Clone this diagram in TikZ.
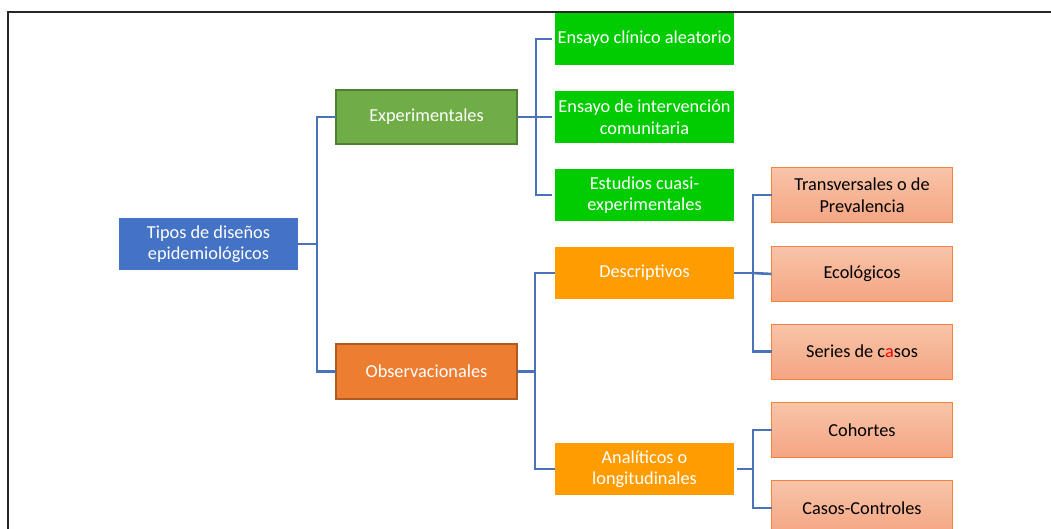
\documentclass[tikz,border=0pt]{standalone}
\usepackage{fontspec}
\setmainfont{Carlito}
\definecolor{cblue}{HTML}{4472C4}
\definecolor{cgreen}{HTML}{70AD47}
\definecolor{cgreenb}{HTML}{507E32}
\definecolor{corange}{HTML}{ED7D31}
\definecolor{coranb}{HTML}{AE5A21}
\definecolor{cbright}{HTML}{00CC00}
\definecolor{camber}{HTML}{FF9C00}
\definecolor{csalt}{HTML}{F8C4A9}
\definecolor{csalb}{HTML}{F4A582}
\definecolor{csald}{HTML}{F4823C}
\definecolor{cline}{HTML}{4A72B8}
\tikzset{
  base/.style={rectangle, inner sep=1pt, outer sep=0pt, align=center,
    font=\fontsize{18.3}{21.5}\selectfont},
  topbox/.style={base, text=white, fill=cblue, minimum width=179pt, minimum height=52pt},
  expbox/.style={base, text=white, fill=cgreen, draw=cgreenb, line width=1.8pt, minimum width=181pt, minimum height=54pt},
  obsbox/.style={base, text=white, fill=corange, draw=coranb, line width=1.8pt, minimum width=181pt, minimum height=55pt},
  gbox/.style={base, text=white, fill=cbright, minimum width=179pt, minimum height=52pt},
  abox/.style={base, text=white, fill=camber, minimum width=179pt, minimum height=52pt},
  sbox/.style={base, text=black, top color=csalt, bottom color=csalb, draw=csald, line width=1pt, minimum width=181pt, minimum height=55pt},
  conn/.style={draw=cline, line width=2.6pt},
}
\begin{document}
\begin{tikzpicture}[x=1pt,y=-1pt]
\useasboundingbox (0,0) rectangle (1051,529);
\clip (0,0) rectangle (1051,529);
\draw[line width=1.6pt, black!85] (8,529) -- (8,12) -- (1051,12);

\node[topbox] (tipos) at (208.5,244) {Tipos de diseños\\epidemiológicos};
\node[expbox] (exp) at (426.5,117) {Experimentales};
\node[obsbox] (obs) at (426.5,371.5) {Observacionales};

\node[gbox] (g1) at (644.5,39) {Ensayo clínico aleatorio};
\node[gbox] (g2) at (644.5,117) {Ensayo de intervención\\comunitaria};
\node[gbox] (g3) at (644.5,195) {Estudios cuasi-\\experimentales};

\node[abox] (desc) at (644.5,273) {Descriptivos};
\node[abox] (anal) at (644.5,469) {Analíticos o\\longitudinales};

\node[sbox] (trans) at (862,195) {Transversales o de\\Prevalencia};
\node[sbox] (eco) at (862,274) {Ecológicos};
\node[sbox] (ser) at (862,351.5) {Series de c\textcolor{red}{a}sos};
\node[sbox] (coh) at (862,430) {Cohortes};
\node[sbox] (cas) at (862,508) {Casos-Controles};

\coordinate (j1) at (317,244);
\coordinate (j2) at (536,117);
\coordinate (j3) at (535,371.5);
\coordinate (j4) at (753,273);
\coordinate (j5) at (753,469);

\draw[conn] (tipos.east) -- (j1);
\draw[conn] (exp.west) -| (j1) |- (obs.west);

\draw[conn] (exp.east) -- (j2);
\draw[conn, shorten <=3pt] (g1.west) -| (j2) |- ([xshift=-3pt]g3.west);
\draw[conn, shorten >=3pt] (j2) -- (g2.west);

\draw[conn] (obs.east) -- (j3);
\draw[conn] (desc.west) -| (j3) |- (anal.west);

\draw[conn] (desc.east) -- (j4);
\draw[conn] (trans.west) -| (j4) |- (ser.west);
\draw[conn] (j4) -- (eco.west);

\draw[conn] ([xshift=3pt]anal.east) -- (j5);
\draw[conn] (coh.west) -| (j5) |- (cas.west);
\end{tikzpicture}
\end{document}
